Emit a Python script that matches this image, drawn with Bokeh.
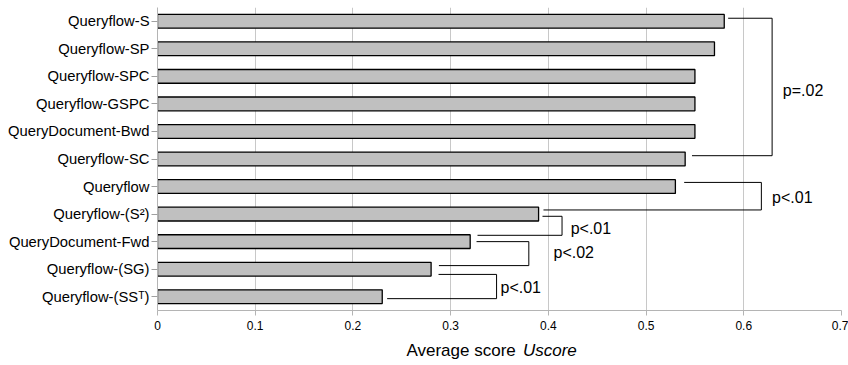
from bokeh.plotting import figure
from bokeh.layouts import column
from bokeh.models import Range1d, FixedTicker, ColumnDataSource
from bokeh.core.properties import value
from bokeh.embed import file_html
from bokeh.resources import INLINE

# ---- data ----
categories = ["Queryflow-S", "Queryflow-SP", "Queryflow-SPC", "Queryflow-GSPC",
              "QueryDocument-Bwd", "Queryflow-SC", "Queryflow", "Queryflow-(S\u00b2)",
              "QueryDocument-Fwd", "Queryflow-(SG)", "Queryflow-(SS\u1d40)"]
scores = [0.58, 0.57, 0.55, 0.55, 0.55, 0.54, 0.53, 0.39, 0.32, 0.28, 0.23]

x_ticks = [0, 0.1, 0.2, 0.3, 0.4, 0.5, 0.6, 0.7]
x_tick_labels = ["0", "0.1", "0.2", "0.3", "0.4", "0.5", "0.6", "0.7"]

# significance brackets (row positions as fractional category index)
br_top_y = [-0.11, 5.85, 7.08, 8.0, 9.19]
br_bot_y = [4.88, 6.85, 7.77, 8.87, 10.07]
br_top_x0 = [0.584, 0.539, 0.394, 0.3265, 0.2876]
br_bot_x0 = [0.547, 0.395, 0.3275, 0.288, 0.235]
br_vert_x = [0.629, 0.618, 0.414, 0.380, 0.347]
br_labels = ["p=.02", "p<.01", "p<.01", "p<.02", "p<.01"]
br_label_x = [0.640, 0.629, 0.4228, 0.4053, 0.351]
br_label_y = [2.53, 6.41, 7.54, 8.38, 9.65]

axis_title = "Average score"
axis_title_italic = "Uscore"

FONT = "Liberation Sans"

n = len(categories)
idx = list(range(n))

p = figure(width=848, height=340, output_backend="svg", toolbar_location=None,
           x_range=Range1d(0, 0.7), y_range=Range1d(10.5, -0.5),
           min_border_left=157, min_border_right=7, min_border_top=7,
           min_border_bottom=30)
p.outline_line_color = None
p.background_fill_color = "white"

p.hbar(y=idx, right=scores, left=0, height=0.5, fill_color="#c0c0c0",
       line_color="black", line_width=1.3)

xs, ys = [], []
for ty, by, tx0, bx0, vx in zip(br_top_y, br_bot_y, br_top_x0, br_bot_x0, br_vert_x):
    xs.append([tx0, vx, vx, bx0])
    ys.append([ty, ty, by, by])
p.multi_line(xs=xs, ys=ys, line_color="black", line_width=1)

src = ColumnDataSource(dict(x=br_label_x, y=br_label_y, t=br_labels))
p.text(x="x", y="y", text="t", source=src, text_font_size="16px",
       text_baseline="middle", text_align="left", text_color="black",
       text_font=value(FONT))

# axes
p.xaxis.ticker = FixedTicker(ticks=x_ticks)
p.xaxis.major_label_overrides = {t: l for t, l in zip(x_ticks, x_tick_labels)}
p.xaxis.minor_tick_line_color = None
p.xaxis.axis_line_color = "#b4b4b4"
p.xaxis.major_tick_line_color = "#b4b4b4"
p.xaxis.major_tick_out = 5
p.xaxis.major_tick_in = 0
p.xaxis.major_label_standoff = 5
p.xaxis.major_label_text_font = FONT
p.xaxis.major_label_text_font_size = "12px"
p.xaxis.major_label_text_color = "black"

p.yaxis.ticker = FixedTicker(ticks=idx)
p.yaxis.major_label_overrides = {i: c for i, c in enumerate(categories)}
p.yaxis.minor_tick_line_color = None
p.yaxis.axis_line_color = "#b4b4b4"
p.yaxis.major_tick_line_color = "#a0a0a0"
p.yaxis.major_tick_out = 6
p.yaxis.major_tick_in = 0
p.yaxis.major_label_standoff = 2
p.yaxis.major_label_text_font = FONT
p.yaxis.major_label_text_font_size = "14.8px"
p.yaxis.major_label_text_color = "black"

p.xgrid.grid_line_color = "#c8c8c8"
p.xgrid.grid_line_width = 1
p.ygrid.grid_line_color = None

# axis title strip, sharing the x scale of the chart, with an italic part
t = figure(width=848, height=25, output_backend="svg", toolbar_location=None,
           x_range=Range1d(0, 0.7), y_range=Range1d(25, 0),
           min_border_left=157, min_border_right=7,
           min_border_top=0, min_border_bottom=0)
t.axis.visible = False
t.grid.visible = False
t.outline_line_color = None
t.text(x=[0.2548], y=[10], text=[axis_title], text_font=value(FONT),
       text_font_size="17px", text_baseline="alphabetic", text_align="left",
       text_color="black")
t.text(x=[0.374], y=[10], text=[axis_title_italic], text_font=value(FONT),
       text_font_size="17px", text_font_style="italic",
       text_baseline="alphabetic", text_align="left", text_color="black")

layout = column(p, t, spacing=0)
open("out.html", "w").write(file_html(layout, INLINE))
